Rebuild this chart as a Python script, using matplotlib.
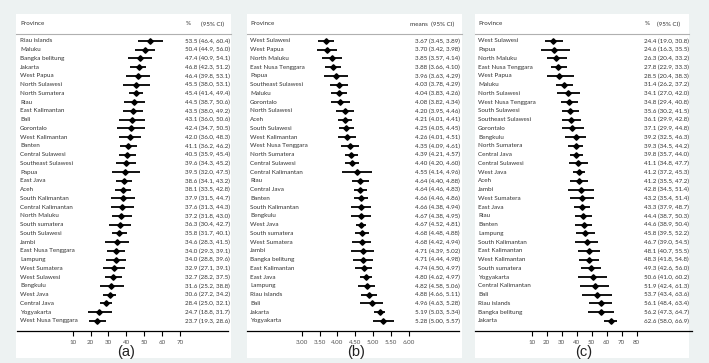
import matplotlib.pyplot as plt
import matplotlib.transforms as mtransforms
from matplotlib.patches import Rectangle

W, H = 709, 363

# panel (a): prevalence, %
prov_a = ["Riau islands", "Maluku", "Bangka belitung", "Jakarta", "West Papua", "North Sulawesi",
          "North Sumatera", "Riau", "East Kalimantan", "Bali", "Gorontalo", "West Kalimantan",
          "Banten", "Central Sulawesi", "Southeast Sulawesi", "Papua", "East Java", "Aceh",
          "South Kalimantan", "Central Kalimantan", "North Maluku", "South sumatera",
          "South Sulawesi", "Jambi", "East Nusa Tenggara", "Lampung", "West Sumatera",
          "West Sulawesi", "Bengkulu", "West Java", "Central Java", "Yogyakarta",
          "West Nusa Tenggara"]
est_a = [53.5, 50.4, 47.4, 46.8, 46.4, 45.5, 45.4, 44.5, 43.5, 43.1, 42.4, 42.0, 41.1, 40.5,
         39.6, 39.5, 38.6, 38.1, 37.9, 37.6, 37.2, 36.3, 35.8, 34.6, 34.0, 34.0, 32.9, 32.7,
         31.6, 30.6, 28.4, 24.7, 23.7]
lo_a = [46.4, 44.9, 40.9, 42.3, 39.8, 38.0, 41.4, 38.7, 38.0, 36.0, 34.7, 36.0, 36.2, 35.9,
        34.3, 32.0, 34.1, 33.5, 31.5, 31.3, 31.8, 30.4, 31.7, 28.3, 29.3, 28.8, 27.1, 28.2,
        25.2, 27.2, 25.0, 18.8, 19.3]
hi_a = [60.4, 56.0, 54.1, 51.2, 53.1, 53.1, 49.4, 50.6, 49.2, 50.6, 50.5, 48.3, 46.2, 45.4,
        45.2, 47.5, 43.2, 42.8, 44.7, 44.3, 43.0, 42.7, 40.1, 41.5, 39.1, 39.6, 39.1, 37.5,
        38.8, 34.2, 32.1, 31.7, 28.6]

# panel (b): means
prov_b = ["West Sulawesi", "West Papua", "North Maluku", "East Nusa Tenggara", "Papua",
          "Southeast Sulawesi", "Maluku", "Gorontalo", "North Sulawesi", "Aceh", "South Sulawesi",
          "West Kalimantan", "West Nusa Tenggara", "North Sumatera", "Central Sulawesi",
          "Central Kalimantan", "Riau", "Central Java", "Banten", "South Kalimantan", "Bengkulu",
          "West Java", "South sumatera", "West Sumatera", "Jambi", "Bangka belitung",
          "East Kalimantan", "East Java", "Lampung", "Riau islands", "Bali", "Jakarta",
          "Yogyakarta"]
est_b = [3.67, 3.70, 3.85, 3.88, 3.96, 4.03, 4.04, 4.08, 4.20, 4.21, 4.25, 4.26, 4.35, 4.39,
         4.40, 4.55, 4.64, 4.64, 4.66, 4.66, 4.67, 4.67, 4.68, 4.68, 4.71, 4.71, 4.74, 4.80,
         4.82, 4.88, 4.96, 5.19, 5.28]
lo_b = [3.45, 3.42, 3.57, 3.66, 3.63, 3.78, 3.83, 3.82, 3.95, 4.01, 4.05, 4.01, 4.09, 4.21,
        4.20, 4.14, 4.40, 4.46, 4.46, 4.38, 4.38, 4.52, 4.48, 4.42, 4.39, 4.44, 4.50, 4.62,
        4.58, 4.66, 4.63, 5.03, 5.00]
hi_b = [3.89, 3.98, 4.14, 4.10, 4.29, 4.29, 4.26, 4.34, 4.46, 4.41, 4.45, 4.51, 4.61, 4.57,
        4.60, 4.96, 4.88, 4.83, 4.86, 4.94, 4.95, 4.81, 4.88, 4.94, 5.02, 4.98, 4.97, 4.97,
        5.06, 5.11, 5.28, 5.34, 5.57]

# panel (c): %
prov_c = ["West Sulawesi", "Papua", "North Maluku", "East Nusa Tenggara", "West Papua", "Maluku",
          "North Sulawesi", "West Nusa Tenggara", "South Sulawesi", "Southeast Sulawesi",
          "Gorontalo", "Bengkulu", "North Sumatera", "Central Java", "Central Sulawesi",
          "West Java", "Aceh", "Jambi", "West Sumatera", "East Java", "Riau", "Banten", "Lampung",
          "South Kalimantan", "East Kalimantan", "West Kalimantan", "South sumatera",
          "Yogyakarta", "Central Kalimantan", "Bali", "Riau islands", "Bangka belitung",
          "Jakarta"]
est_c = [24.4, 24.6, 26.3, 27.8, 28.5, 31.4, 34.1, 34.8, 35.6, 36.1, 37.1, 39.2, 39.3, 39.8,
         41.1, 41.2, 41.2, 42.8, 43.2, 43.3, 44.4, 44.6, 45.8, 46.7, 48.1, 48.3, 49.3, 50.6,
         51.9, 53.7, 56.1, 56.2, 62.6]
lo_c = [19.0, 16.3, 20.4, 22.9, 20.4, 26.2, 27.0, 29.4, 30.2, 29.9, 29.9, 32.5, 34.5, 35.7,
        34.8, 37.2, 35.5, 34.5, 35.4, 37.9, 38.7, 38.9, 39.5, 39.0, 40.7, 41.8, 42.6, 41.0,
        42.4, 43.4, 48.4, 47.3, 58.0]
hi_c = [30.8, 35.5, 33.2, 33.3, 38.3, 37.2, 42.0, 40.8, 41.5, 42.8, 44.8, 46.3, 44.2, 44.0,
        47.7, 45.3, 47.2, 51.4, 51.4, 48.7, 50.3, 50.4, 52.2, 54.5, 55.5, 54.8, 56.0, 60.2,
        61.3, 63.6, 63.4, 64.7, 66.9]

ticks_a = [10, 20, 30, 40, 50, 60, 70]
ticks_b = [3.00, 3.50, 4.00, 4.50, 5.00, 5.50, 6.00]
ticks_c = [10, 20, 30, 40, 50, 60, 70, 80]

BG = '#edf2f2'
TXT = '#333333'
FONT = ['Lato', 'DejaVu Sans']
FS = 4.5

fig = plt.figure(figsize=(W / 100, H / 100), dpi=100)
fig.patch.set_facecolor(BG)

ROW0, ROWN = 41, 321      # pixel y of first / last row
Y_TOP, Y_AX = 15, 331     # top of axes, axis line


def panel(prov, est, lo, hi, ticks, fmt, tfmt, box, ax_px, ref, header_val, lab_x, val_x,
          tag, tag_x):
    # white panel box
    bx0, bx1 = box
    fig.add_artist(Rectangle((bx0 / W, 1 - 358 / H), (bx1 - bx0) / W, (358 - 14) / H,
                             transform=fig.transFigure, facecolor='white', edgecolor='none',
                             zorder=0))
    x0, x1 = ax_px
    ax = fig.add_axes([x0 / W, 1 - Y_AX / H, (x1 - x0) / W, (Y_AX - Y_TOP) / H])
    ax.patch.set_alpha(0)
    # pixel -> value mapping from two reference ticks
    (p0, v0), (p1, v1) = ref
    scale = (v1 - v0) / (p1 - p0)
    ax.set_xlim(v0 + (x0 - p0) * scale, v0 + (x1 - p0) * scale)
    n = len(prov)
    step = (ROWN - ROW0) / (n - 1)
    ax.set_ylim((Y_AX - ROW0) / step, (Y_TOP - ROW0) / step)
    ys = list(range(n))
    xerr = [[e - l for e, l in zip(est, lo)], [h - e for e, h in zip(est, hi)]]
    ax.errorbar(est, ys, xerr=xerr, fmt='D', color='black', ms=2.8, lw=1.3,
                elinewidth=1.3, capsize=0)
    for s in ['top', 'left', 'right']:
        ax.spines[s].set_visible(False)
    ax.spines['bottom'].set_linewidth(0.9)
    ax.set_yticks([])
    ax.set_xticks(ticks)
    ax.set_xticklabels([tfmt.format(t) for t in ticks], fontsize=FS, color='#555555',
                       family=FONT)
    ax.tick_params(axis='x', length=3.5, width=0.8, pad=3)
    tr = mtransforms.blended_transform_factory(fig.transFigure, ax.transData)
    for i, p in enumerate(prov):
        ax.text(lab_x / W, i, p, transform=tr, fontsize=FS, color=TXT, va='center',
                family=FONT)
        txt = (fmt + ' (' + fmt + ', ' + fmt + ')').format(est[i], lo[i], hi[i])
        ax.text(val_x / W, i, txt, transform=tr, fontsize=FS, color=TXT, va='center',
                family=FONT)
    yh = (24 - ROW0) / step
    ax.text(lab_x / W, yh, 'Province', transform=tr, fontsize=FS, color=TXT, va='center',
            family=FONT)
    for hx, ht in header_val:
        ax.text(hx / W, yh, ht, transform=tr, fontsize=FS, color=TXT, va='center',
                family=FONT)
    fig.add_artist(plt.Line2D([bx0 / W, bx1 / W], [1 - 34 / H, 1 - 34 / H],
                              transform=fig.transFigure, color='#b0b0b0', lw=0.8))
    fig.text(tag_x / W, 1 - 352 / H, tag, fontsize=10.5, ha='center', va='center',
             family=['Liberation Sans', 'DejaVu Sans'], color='#222222')
    return ax


panel(prov_a, est_a, lo_a, hi_a, ticks_a, '{:.1f}', '{:.0f}', (16, 231), (17, 228),
      ((72.7, 10), (180.0, 70)), [(186, '%'), (201, '(95% CI)')], 20, 185, '(a)', 126)
panel(prov_b, est_b, lo_b, hi_b, ticks_b, '{:.2f}', '{:.2f}', (247, 462), (247, 459),
      ((301.7, 3.0), (409.0, 6.0)), [(410, 'means  (95% CI)')], 250, 415, '(b)', 356)
panel(prov_c, est_c, lo_c, hi_c, ticks_c, '{:.1f}', '{:.0f}', (475, 689), (475, 692),
      ((531.7, 10), (636.7, 80)), [(645, '%'), (657, '(95% CI)')], 478, 644, '(c)', 584)

fig.savefig('out.png', dpi=100, facecolor=fig.get_facecolor())
